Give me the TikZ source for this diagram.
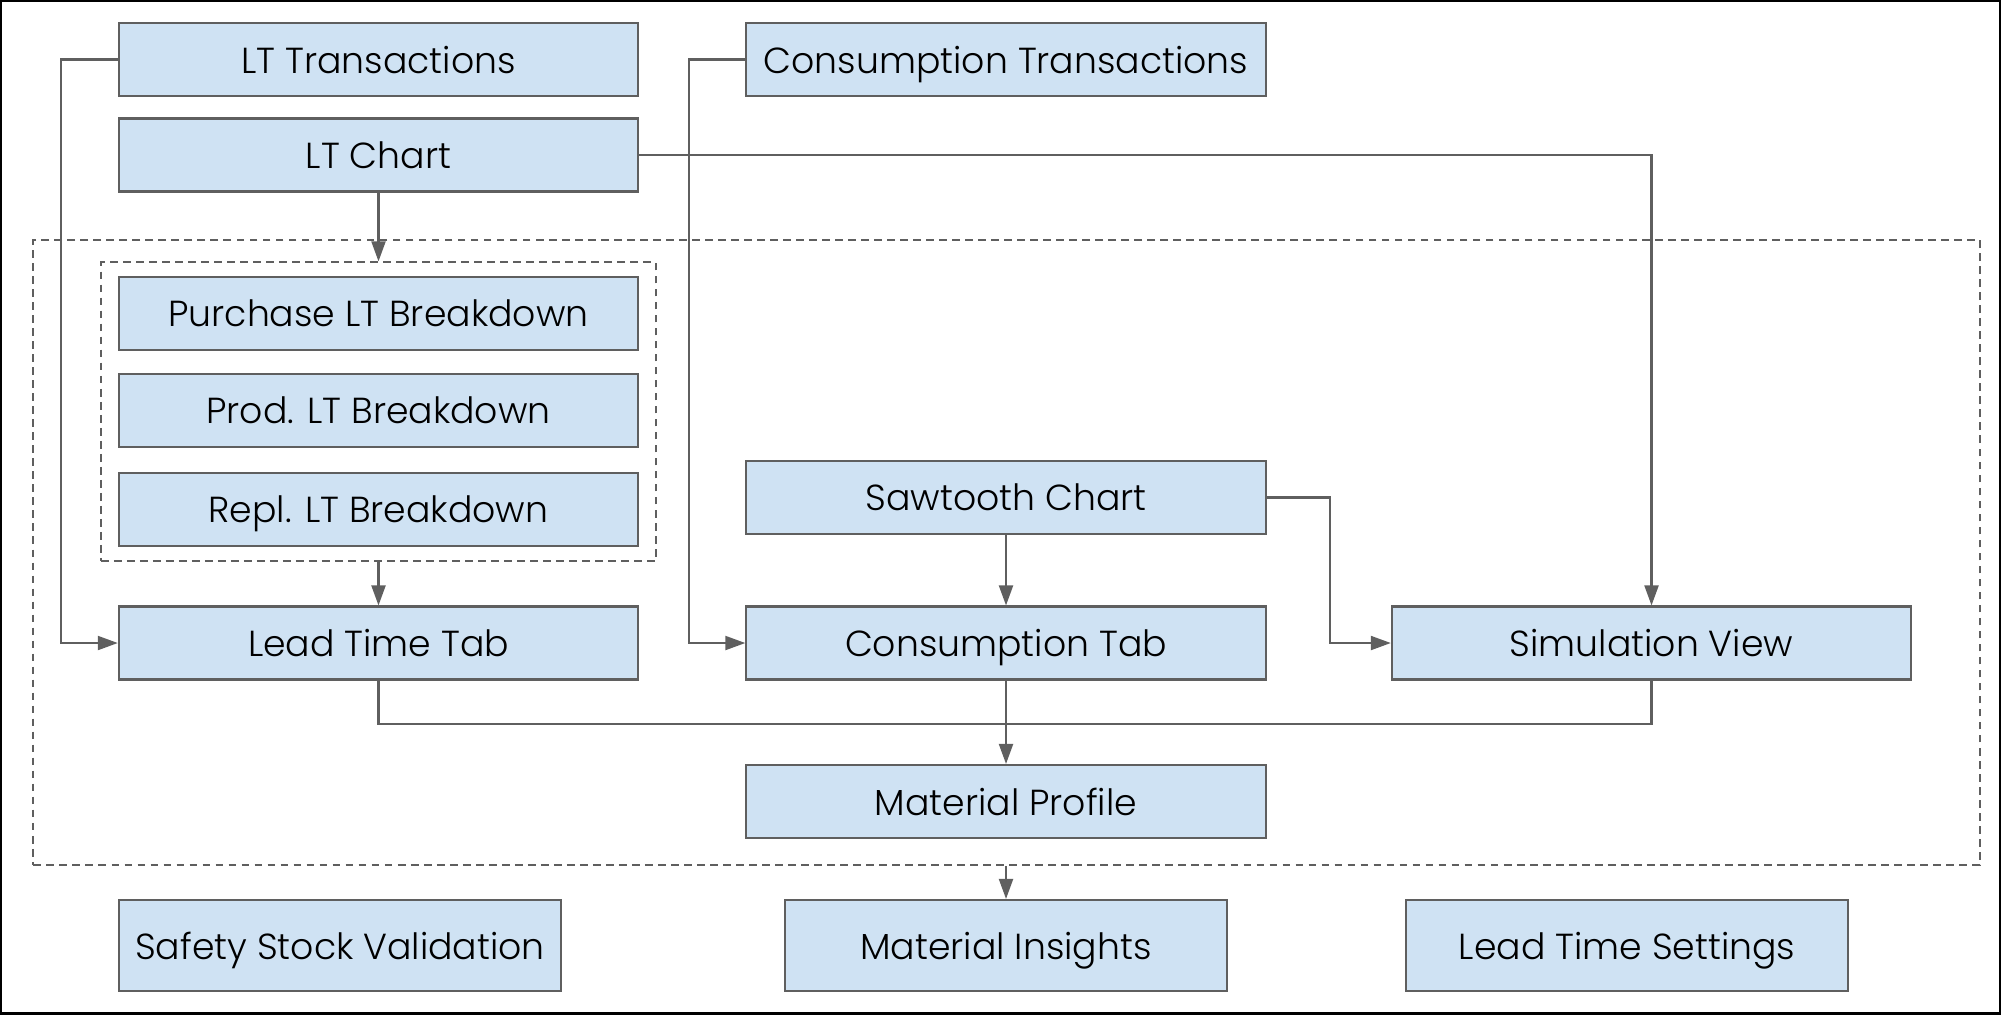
\documentclass[tikz,border=0pt]{standalone}
\usepackage{fontspec}
\setmainfont{Poppins}[UprightFont=* Light]
\usetikzlibrary{arrows.meta,fit}
\definecolor{boxfill}{HTML}{CFE2F3}
\definecolor{linegray}{HTML}{5F5F5F}

\begin{document}
\begin{tikzpicture}[x=0.01cm, y=-0.01cm,
  box/.style={draw=linegray, fill=boxfill, line width=0.6pt, minimum width=5.19cm,
    minimum height=0.73cm, inner sep=0pt, text depth=0pt, font=\fontsize{10.3}{12}\selectfont},
  wide/.style={box, minimum width=4.42cm, minimum height=0.91cm},
  grp/.style={draw=linegray, line width=0.6pt, dashed, dash pattern=on 2.2pt off 1.5pt, inner sep=0pt},
  arr/.style={draw=linegray, line width=0.6pt, -{Triangle[length=0.2cm, width=0.14cm]}},
  lnk/.style={draw=linegray, line width=0.6pt}]

% Page
\useasboundingbox (0,0) rectangle (2001,1014);
\draw[line width=1.4pt] (0,0) rectangle (2001,1014);

% Outer group
\node[grp, minimum width=19.45cm, minimum height=6.25cm] (outer) at (1006.5,552.5) {};

% Sources
\node[box] (ltt) at (378.5,59.5) {LT Transactions};
\node[box] (ltc) at (378.5,155) {LT Chart};
\node[box] (ctr) at (1006,59.5) {Consumption Transactions};

% Breakdowns
\node[box] (pur) at (378.5,313.5) {Purchase LT Breakdown};
\node[box] (prod) at (378.5,410.5) {Prod. LT Breakdown};
\node[box] (repl) at (378.5,509.5) {Repl. LT Breakdown};
\node[grp, inner xsep=0.17cm, inner ysep=0.135cm, fit=(pur)(repl)] (inner) {};

% Tabs
\node[box] (saw) at (1006,497.5) {Sawtooth Chart};
\node[box] (ltab) at (378.5,643) {Lead Time Tab};
\node[box] (ctab) at (1006,643) {Consumption Tab};
\node[box] (sim) at (1651.5,643) {Simulation View};
\node[box] (mprof) at (1006,801.5) {Material Profile};

% Bottom row
\node[wide] (ssv) at (340,945.5) {Safety Stock Validation};
\node[wide] (mins) at (1006,945.5) {Material Insights};
\node[wide] (lts) at (1627,945.5) {Lead Time Settings};

% Connectors
\draw[arr] (ltt.west) -- ++(-56.5,0) |- (ltab.west);
\draw[arr] (ctr.west) -- ++(-56,0) |- (ctab.west);
\draw[arr] (ltc.east) -| (sim.north);
\draw[arr] (ltc.south) -- (inner.north);
\draw[arr] (inner.south) -- (ltab.north);
\draw[arr] (saw.south) -- (ctab.north);
\draw[arr] (saw.east) -- ++(63.5,0) |- (sim.west);
\draw[lnk] (ltab.south) -- ++(0,43) -| (sim.south);
\draw[arr] (ctab.south) -- (mprof.north);
\draw[arr] (outer.south -| mins.north) -- (mins.north);

\end{tikzpicture}
\end{document}
